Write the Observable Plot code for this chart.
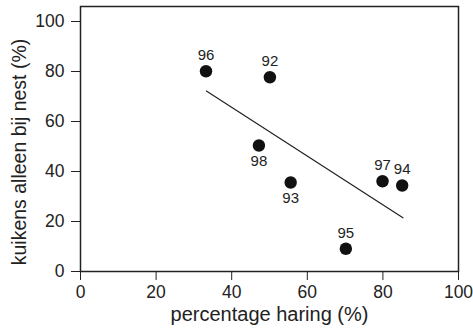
<!DOCTYPE html>
<html>
<head>
<meta charset="utf-8">
<script src="https://cdn.jsdelivr.net/npm/d3@7"></script>
<script src="https://cdn.jsdelivr.net/npm/@observablehq/plot@0.6"></script>
<style>
  html, body { margin: 0; padding: 0; background: #fff; }
  #chart svg { display: block; }
</style>
</head>
<body>
<div id="chart"></div>
<script>
// Data
const years = ["96", "92", "98", "93", "95", "97", "94"];
const haring = [33.2, 50.1, 47.2, 55.6, 70.2, 79.9, 85.1];      // percentage haring (%)
const alleen = [80.1, 77.7, 50.4, 35.6, 9.1, 36.1, 34.4];       // kuikens alleen bij nest (%)
const labelPos = ["above", "above", "below", "below", "above", "above", "above"];
// Trend line endpoints (as drawn)
const trendX = [33.3, 85.3];
const trendY = [72.2, 21.5];
const tickValues = [0, 20, 40, 60, 80, 100];
const xLabel = "percentage haring (%)";
const yLabel = "kuikens alleen bij nest (%)";

const points = years.map((yr, i) => ({yr, x: haring[i], y: alleen[i], pos: labelPos[i]}));
const trend = trendX.map((x, i) => ({x, y: trendY[i]}));

const font = "'Liberation Sans', Arial, Helvetica, sans-serif";

const chart = Plot.plot({
  width: 473,
  height: 333,
  marginLeft: 80,
  marginRight: 15,
  marginTop: 6,
  marginBottom: 62,
  style: {fontFamily: font, fontSize: "17.5px", color: "#222", background: "#fff"},
  x: {domain: [0, 100], ticks: tickValues, label: null},
  y: {domain: [0, 106], ticks: tickValues, label: null},
  marks: [
    Plot.axisX({ticks: tickValues, tickSize: 9, tickPadding: 5, label: null, fontSize: 17.5}),
    Plot.axisY({ticks: tickValues, tickSize: 9, tickPadding: 7, label: null, fontSize: 17.5}),
    Plot.frame({stroke: "#222", strokeWidth: 1.5}),
    Plot.text([xLabel], {frameAnchor: "bottom", text: d => d, dy: 49, fontSize: 20, fill: "#222"}),
    Plot.text([yLabel], {frameAnchor: "left", text: d => d, rotate: -90, dx: -61, dy: 13, textAnchor: "middle", fontSize: 19.5, fill: "#222"}),
    Plot.line(trend, {x: "x", y: "y", stroke: "#222", strokeWidth: 1.2}),
    Plot.dot(points, {x: "x", y: "y", r: 6.2, fill: "#111", stroke: "none"}),
    Plot.text(points.filter(d => d.pos === "above"), {x: "x", y: "y", text: "yr", dy: -16, fontSize: 15, fill: "#222"}),
    Plot.text(points.filter(d => d.pos === "below"), {x: "x", y: "y", text: "yr", dy: 16, fontSize: 15, fill: "#222"})
  ]
});
document.getElementById("chart").appendChild(chart);
</script>
</body>
</html>
